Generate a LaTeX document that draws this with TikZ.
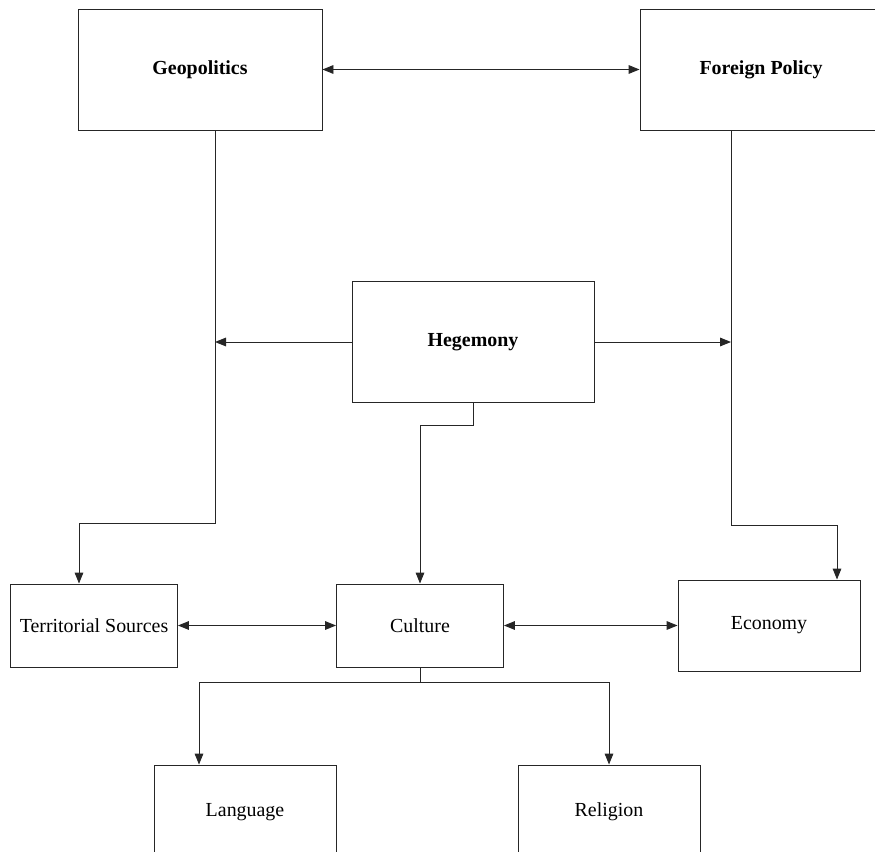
\documentclass[tikz,border=0pt]{standalone}
\usepackage{fontspec}
\setmainfont{Liberation Serif}
\usetikzlibrary{arrows.meta}

\begin{document}
\begin{tikzpicture}[x=0.03cm, y=-0.03cm, line width=0.8pt, draw=black!85,
    every node/.style={font=\fontsize{17}{20}\selectfont},
    box/.style={draw=black!85, rectangle, inner sep=0pt},
    >={Triangle[length=0.33cm,width=0.26cm]}]
    % picture from (0,0) to (875,852), y runs downwards
    \useasboundingbox (0,0) rectangle (875,852);

    % Top row
    \node[box, minimum width=7.32cm, minimum height=3.63cm] (geo) at (200,69.5) {\textbf{Geopolitics}};
    \node[box, minimum width=7.26cm, minimum height=3.63cm] (fp) at (761,69.5) {\textbf{Foreign Policy}};

    % Middle
    \node[box, minimum width=7.26cm, minimum height=3.63cm] (heg) at (473,342) {\textbf{Hegemony}};

    % Second row
    \node[box, minimum width=5.01cm, minimum height=2.49cm] (terr) at (94,625.5) {Territorial Sources};
    \node[box, minimum width=5.01cm, minimum height=2.49cm] (cult) at (420,625.5) {Culture};
    \node[box, minimum width=5.46cm, minimum height=2.73cm] (econ) at (769,625.5) {Economy};

    % Bottom row (cut off by the page)
    \node[box, minimum width=5.46cm, minimum height=2.82cm] (lang) at (245,812) {Language};
    \node[box, minimum width=5.46cm, minimum height=2.82cm] (rel) at (609,812) {Religion};

    % Bends of the connectors
    \coordinate (gbend) at (215,523);
    \coordinate (tbend) at (79,523);
    \coordinate (fbend) at (731,525);
    \coordinate (ebend) at (837,525);
    \coordinate (hbend) at (473,425);
    \coordinate (cbend) at (420,682);
    \coordinate (lbend) at (199,682);

    % Connectors
    \draw[<->] (geo) -- (fp);
    \draw[->] (geo.south -| gbend) -- (gbend) -- (tbend) -- (tbend |- terr.north);
    \draw[->] (fp.south -| fbend) -- (fbend) -- (ebend) -- (ebend |- econ.north);
    \draw[->] (heg.west) -- (heg.west -| gbend);
    \draw[->] (heg.east) -- (heg.east -| fbend);
    \draw[->] (heg.south) -- (hbend) -| (cult.north);
    \draw[<->] (terr) -- (cult);
    \draw[<->] (cult) -- (econ);
    \draw[->] (cult.south) -- (cbend) -- (lbend) -- (lbend |- lang.north);
    \draw[->] (cbend) -| (rel.north);
\end{tikzpicture}
\end{document}
